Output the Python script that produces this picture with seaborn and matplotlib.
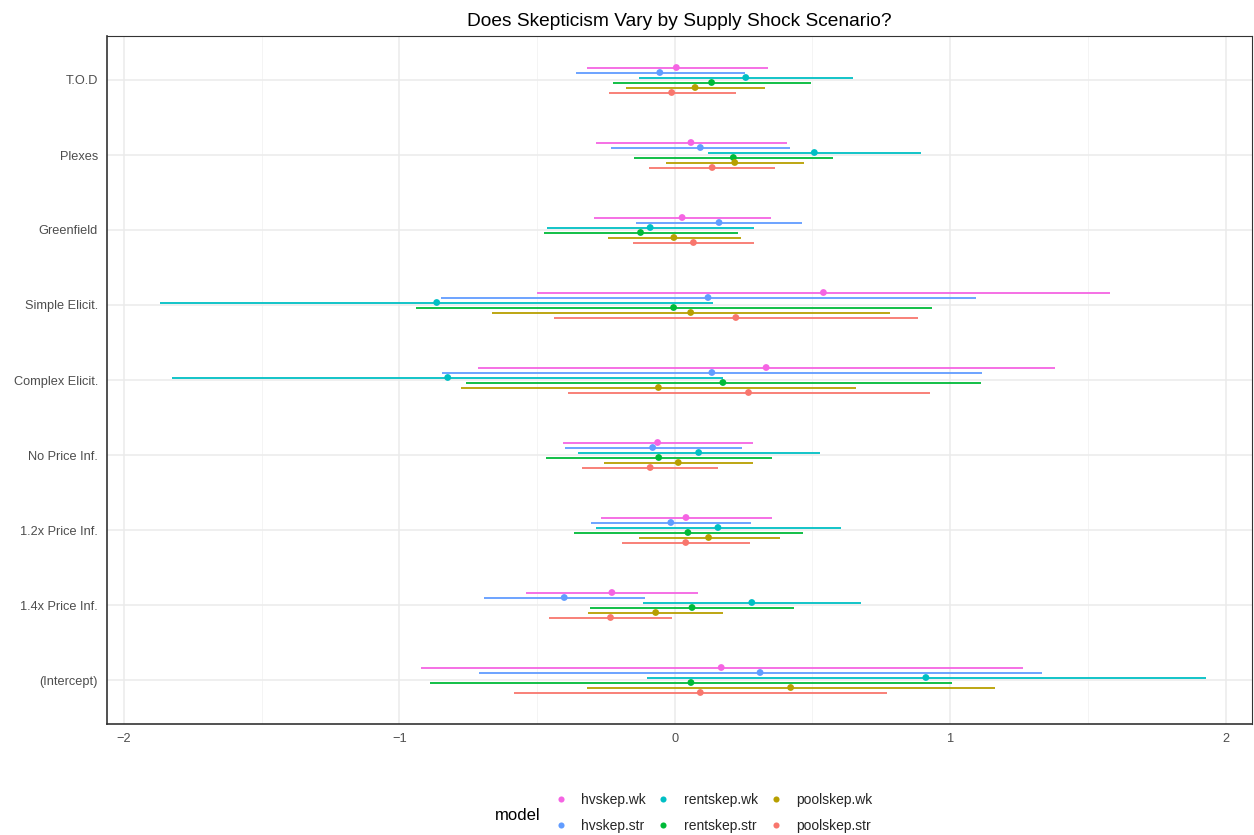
import numpy as np
import pandas as pd
import matplotlib
matplotlib.use("Agg")
import matplotlib.pyplot as plt
from matplotlib.lines import Line2D
import seaborn as sns

# Regression terms, top to bottom
terms = ["T.O.D", "Plexes", "Greenfield", "Simple Elicit.", "Complex Elicit.",
         "No Price Inf.", "1.2x Price Inf.", "1.4x Price Inf.", "(Intercept)"]

models = ["hvskep.wk", "hvskep.str", "rentskep.wk", "rentskep.str",
          "poolskep.wk", "poolskep.str"]

# Point estimates per model (same order as terms)
est_hvskep_wk = [0.006, 0.059, 0.027, 0.540, 0.332, -0.062, 0.041, -0.228, 0.169]
est_hvskep_str = [-0.054, 0.093, 0.161, 0.121, 0.135, -0.080, -0.014, -0.401, 0.310]
est_rentskep_wk = [0.258, 0.507, -0.089, -0.864, -0.824, 0.087, 0.157, 0.280, 0.912]
est_rentskep_str = [0.134, 0.213, -0.124, -0.004, 0.175, -0.058, 0.048, 0.063, 0.059]
est_poolskep_wk = [0.074, 0.218, -0.003, 0.058, -0.059, 0.013, 0.123, -0.069, 0.421]
est_poolskep_str = [-0.011, 0.136, 0.068, 0.222, 0.268, -0.089, 0.040, -0.233, 0.093]

# Lower interval bounds
lo_hvskep_wk = [-0.319, -0.286, -0.294, -0.500, -0.715, -0.404, -0.268, -0.540, -0.922]
lo_hvskep_str = [-0.360, -0.231, -0.139, -0.850, -0.844, -0.400, -0.303, -0.694, -0.711]
lo_rentskep_wk = [-0.128, 0.121, -0.464, -1.868, -1.824, -0.350, -0.286, -0.116, -0.101]
lo_rentskep_str = [-0.225, -0.146, -0.474, -0.939, -0.757, -0.467, -0.367, -0.306, -0.889]
lo_poolskep_wk = [-0.178, -0.032, -0.243, -0.663, -0.775, -0.257, -0.130, -0.314, -0.319]
lo_poolskep_str = [-0.240, -0.093, -0.153, -0.438, -0.389, -0.335, -0.193, -0.458, -0.583]

# Upper interval bounds
hi_hvskep_wk = [0.337, 0.409, 0.350, 1.581, 1.381, 0.283, 0.352, 0.083, 1.264]
hi_hvskep_str = [0.254, 0.420, 0.464, 1.094, 1.117, 0.243, 0.277, -0.108, 1.332]
hi_rentskep_wk = [0.646, 0.893, 0.288, 0.139, 0.176, 0.528, 0.604, 0.678, 1.928]
hi_rentskep_str = [0.496, 0.574, 0.229, 0.933, 1.111, 0.352, 0.465, 0.432, 1.007]
hi_poolskep_wk = [0.327, 0.469, 0.240, 0.781, 0.660, 0.283, 0.381, 0.177, 1.163]
hi_poolskep_str = [0.222, 0.366, 0.289, 0.883, 0.926, 0.157, 0.274, -0.009, 0.772]

estimates = [est_hvskep_wk, est_hvskep_str, est_rentskep_wk,
             est_rentskep_str, est_poolskep_wk, est_poolskep_str]
lows = [lo_hvskep_wk, lo_hvskep_str, lo_rentskep_wk,
        lo_rentskep_str, lo_poolskep_wk, lo_poolskep_str]
highs = [hi_hvskep_wk, hi_hvskep_str, hi_rentskep_wk,
         hi_rentskep_str, hi_poolskep_wk, hi_poolskep_str]

x_ticks = [-2, -1, 0, 1, 2]

palette = {
    "hvskep.wk": "#F564E3",
    "hvskep.str": "#619CFF",
    "rentskep.wk": "#00BFC4",
    "rentskep.str": "#00BA38",
    "poolskep.wk": "#B79F00",
    "poolskep.str": "#F8766D",
}

# Long table: one row per (model, term), with a dodged vertical position
rows = []
dodge = np.linspace(-1, 1, len(models)) * (12.5 / 75)
for m_i, model in enumerate(models):
    for t_i, term in enumerate(terms):
        rows.append({
            "model": model,
            "term": term,
            "estimate": estimates[m_i][t_i],
            "low": lows[m_i][t_i],
            "high": highs[m_i][t_i],
            "ypos": t_i + dodge[m_i],
        })
df = pd.DataFrame(rows)

sns.set_theme(style="white")
plt.rcParams["font.family"] = ["Liberation Sans", "DejaVu Sans"]

fig = plt.figure(figsize=(12.54, 8.35), dpi=100)
ax = fig.add_axes([107 / 1254, 1 - 724 / 835, (1252 - 107) / 1254, (724 - 36) / 835])

# Grid: major + minor vertical lines, major horizontal lines
for xv in [-1.5, -0.5, 0.5, 1.5]:
    ax.axvline(xv, color="#F2F2F2", lw=0.6, zorder=0)
for xv in x_ticks:
    ax.axvline(xv, color="#EBEBEB", lw=1.1, zorder=0)
for yv in range(len(terms)):
    ax.axhline(yv, color="#EBEBEB", lw=1.1, zorder=0)

# Confidence intervals
for model in models:
    sub = df[df["model"] == model]
    ax.hlines(sub["ypos"], sub["low"], sub["high"], color=palette[model],
              lw=1.3, zorder=2)

# Point estimates
sns.scatterplot(data=df, x="estimate", y="ypos", hue="model", hue_order=models,
                palette=palette, s=24, linewidth=0, legend=False, ax=ax, zorder=3)

ax.set_xlim(-2.061, 2.096)
ax.set_ylim(len(terms) - 1 + 44 / 75, -44 / 75)
ax.set_xticks(x_ticks)
ax.set_xticklabels(["\u22122", "\u22121", "0", "1", "2"])
ax.set_yticks(range(len(terms)))
ax.set_yticklabels(terms)
ax.set_xlabel("")
ax.set_ylabel("")
ax.tick_params(axis="both", which="major", length=3.5, width=0.8,
               color="#333333", labelcolor="#4D4D4D", labelsize=9.2)
ax.tick_params(axis="x", pad=3)
ax.tick_params(axis="y", pad=3)
for side in ["top", "right"]:
    ax.spines[side].set_color("#333333")
    ax.spines[side].set_linewidth(0.8)
for side in ["left", "bottom"]:
    ax.spines[side].set_color("#333333")
    ax.spines[side].set_linewidth(1.2)

ax.set_title("Does Skepticism Vary by Supply Shock Scenario?", fontsize=13.8,
             color="black", pad=7)

# Legend below the panel, title on the left
handles = [Line2D([0], [0], marker="o", linestyle="", markersize=4.4,
                  markerfacecolor=palette[m], markeredgewidth=0, label=m)
           for m in models]
leg = fig.legend(handles=handles, loc="center left", ncol=3,
                 bbox_to_anchor=(548 / 1254, 1 - 813 / 835), frameon=False,
                 fontsize=10, handletextpad=0.95, columnspacing=0.8,
                 labelspacing=0.85, handlelength=1.0, borderaxespad=0)
fig.text(495 / 1254, 1 - 815 / 835, "model", fontsize=12, va="center",
         ha="left", color="black")

fig.savefig("out.png", dpi=100, facecolor="white")
